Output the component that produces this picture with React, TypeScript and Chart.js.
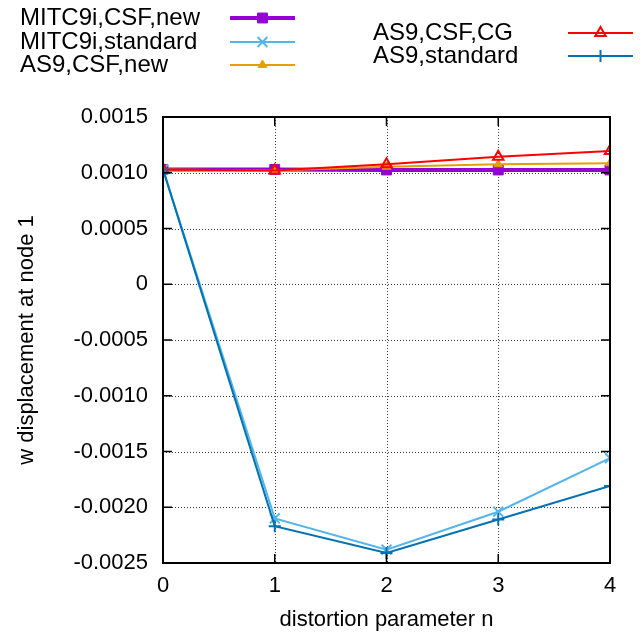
import React, { useEffect, useRef } from 'react';
import { Chart, registerables } from 'chart.js';
import { drawPoint } from 'chart.js/helpers';

Chart.register(...registerables);

const nValues = [0, 1, 2, 3, 4];
const seriesNames = ['MITC9i,CSF,new', 'MITC9i,standard', 'AS9,CSF,new', 'AS9,CSF,CG', 'AS9,standard'];
const mitcCsfNew = [0.00103, 0.00103, 0.001025, 0.001025, 0.001025];
const mitcStandard = [0.00103, -0.0021, -0.00238, -0.00204, -0.00156];
const as9CsfNew = [0.00103, 0.00102, 0.001054, 0.001076, 0.001085];
const as9CsfCg = [0.00103, 0.00102, 0.001076, 0.001144, 0.001195];
const as9Standard = [0.00103, -0.00217, -0.00241, -0.00211, -0.00181];
const xTickValues = [0, 1, 2, 3, 4];
const yTickValues = [-0.0025, -0.002, -0.0015, -0.001, -0.0005, 0, 0.0005, 0.001, 0.0015];

const FONT = "'Liberation Sans', Arial, sans-serif";

const styles = [
  { color: '#9400D3', width: 4, pointStyle: 'rect', radius: 7, fill: '#9400D3', bw: 1, order: 5 },
  { color: '#56B4E9', width: 2, pointStyle: 'crossRot', radius: 7, fill: '#56B4E9', bw: 2, order: 4 },
  { color: '#E69F00', width: 2, pointStyle: 'triangle', radius: 5, fill: '#E69F00', bw: 1, order: 3 },
  { color: '#FF0000', width: 2, pointStyle: 'triangle', radius: 6, fill: 'rgba(0,0,0,0)', bw: 2, order: 2 },
  { color: '#0072B2', width: 2, pointStyle: 'cross', radius: 6, fill: '#0072B2', bw: 2, order: 1 },
];

const legendLayout = [
  { tx: 20, y: 18, lx1: 230, lx2: 295 },
  { tx: 20, y: 42, lx1: 230, lx2: 295 },
  { tx: 20, y: 65, lx1: 230, lx2: 295 },
  { tx: 373, y: 33, lx1: 568, lx2: 633 },
  { tx: 373, y: 56, lx1: 568, lx2: 633 },
];

const framePlugin = {
  id: 'frame',
  beforeDatasetsDraw(chart: any) {
    const { ctx, chartArea: a, scales } = chart;
    ctx.save();
    ctx.strokeStyle = 'rgba(0,0,0,0.75)';
    ctx.lineWidth = 1;
    ctx.setLineDash([1, 2]);
    ctx.beginPath();
    xTickValues.forEach((v) => {
      const px = Math.round(scales.x.getPixelForValue(v)) + 0.5;
      ctx.moveTo(px, a.top);
      ctx.lineTo(px, a.bottom);
    });
    yTickValues.forEach((v) => {
      const py = Math.round(scales.y.getPixelForValue(v)) + 0.5;
      ctx.moveTo(a.left, py);
      ctx.lineTo(a.right, py);
    });
    ctx.stroke();
    ctx.restore();
  },
  afterDatasetsDraw(chart: any) {
    const { ctx, chartArea: a, scales } = chart;
    ctx.save();
    ctx.strokeStyle = '#000';
    ctx.lineWidth = 1.5;
    ctx.beginPath();
    const tl = 9;
    xTickValues.forEach((v) => {
      const px = scales.x.getPixelForValue(v);
      ctx.moveTo(px, a.bottom);
      ctx.lineTo(px, a.bottom - tl);
      ctx.moveTo(px, a.top);
      ctx.lineTo(px, a.top + tl);
    });
    yTickValues.forEach((v) => {
      const py = scales.y.getPixelForValue(v);
      ctx.moveTo(a.left, py);
      ctx.lineTo(a.left + tl, py);
      ctx.moveTo(a.right, py);
      ctx.lineTo(a.right - tl, py);
    });
    ctx.stroke();
    ctx.lineWidth = 2;
    ctx.strokeRect(a.left, a.top, a.right - a.left, a.bottom - a.top);
    ctx.restore();
  },
  afterDraw(chart: any) {
    const { ctx } = chart;
    ctx.save();
    ctx.font = `24px ${FONT}`;
    ctx.textBaseline = 'middle';
    ctx.textAlign = 'left';
    chart.data.datasets.forEach((ds: any, i: number) => {
      const L = legendLayout[i];
      const s = styles[i];
      ctx.fillStyle = '#000';
      ctx.fillText(ds.label, L.tx, L.y);
      ctx.strokeStyle = s.color;
      ctx.lineWidth = s.width;
      ctx.setLineDash([]);
      ctx.beginPath();
      ctx.moveTo(L.lx1, L.y);
      ctx.lineTo(L.lx2, L.y);
      ctx.stroke();
      ctx.fillStyle = s.fill;
      ctx.strokeStyle = s.color;
      ctx.lineWidth = s.bw;
      drawPoint(ctx, { pointStyle: s.pointStyle, radius: s.radius, rotation: 0, borderWidth: s.bw } as any, (L.lx1 + L.lx2) / 2, L.y);
    });
    ctx.restore();
  },
};

export default function App() {
  const ref = useRef<HTMLCanvasElement | null>(null);
  useEffect(() => {
    document.body.style.margin = '0';
    const series = [mitcCsfNew, mitcStandard, as9CsfNew, as9CsfCg, as9Standard];
    const chart = new Chart(ref.current as HTMLCanvasElement, {
      type: 'line',
      data: {
        datasets: series.map((vals, i) => ({
          label: seriesNames[i],
          data: nValues.map((n, j) => ({ x: n, y: vals[j] })),
          borderColor: styles[i].color,
          borderWidth: styles[i].width,
          backgroundColor: styles[i].fill,
          pointBackgroundColor: styles[i].fill,
          pointBorderColor: styles[i].color,
          pointBorderWidth: styles[i].bw,
          pointStyle: styles[i].pointStyle as any,
          pointRadius: styles[i].radius,
          tension: 0,
          fill: false,
          order: styles[i].order,
        })),
      },
      options: {
        animation: false,
        responsive: false,
        maintainAspectRatio: false,
        layout: { padding: { top: 117, right: 34, left: 0, bottom: 0 } },
        plugins: { legend: { display: false }, tooltip: { enabled: false } },
        scales: {
          x: {
            type: 'linear',
            min: 0,
            max: 4,
            afterFit: (s: any) => { s.height = 71; },
            afterBuildTicks: (s: any) => { s.ticks = xTickValues.map((v) => ({ value: v })); },
            ticks: { color: '#000', font: { size: 22, family: FONT }, padding: 10, callback: (v: any) => String(v) },
            grid: { display: false, drawTicks: false },
            border: { display: false },
            title: { display: true, text: 'distortion parameter n', color: '#000', font: { size: 22, family: FONT }, padding: { top: 0, bottom: 1 } },
          },
          y: {
            type: 'linear',
            min: -0.0025,
            max: 0.0015,
            afterFit: (s: any) => { s.width = 163; },
            afterBuildTicks: (s: any) => { s.ticks = yTickValues.map((v) => ({ value: v })); },
            ticks: {
              color: '#000',
              font: { size: 22, family: FONT },
              padding: 15,
              callback: (v: any) => (Math.abs(v) < 1e-12 ? '0' : Number(v).toFixed(4)),
            },
            grid: { display: false, drawTicks: false },
            border: { display: false },
            title: { display: true, text: 'w displacement at node 1', color: '#000', font: { size: 22, family: FONT }, padding: { top: 14, bottom: 0 } },
          },
        },
      },
      plugins: [framePlugin],
    });
    return () => chart.destroy();
  }, []);
  return <canvas ref={ref} width={644} height={634} style={{ display: 'block' }} />;
}
